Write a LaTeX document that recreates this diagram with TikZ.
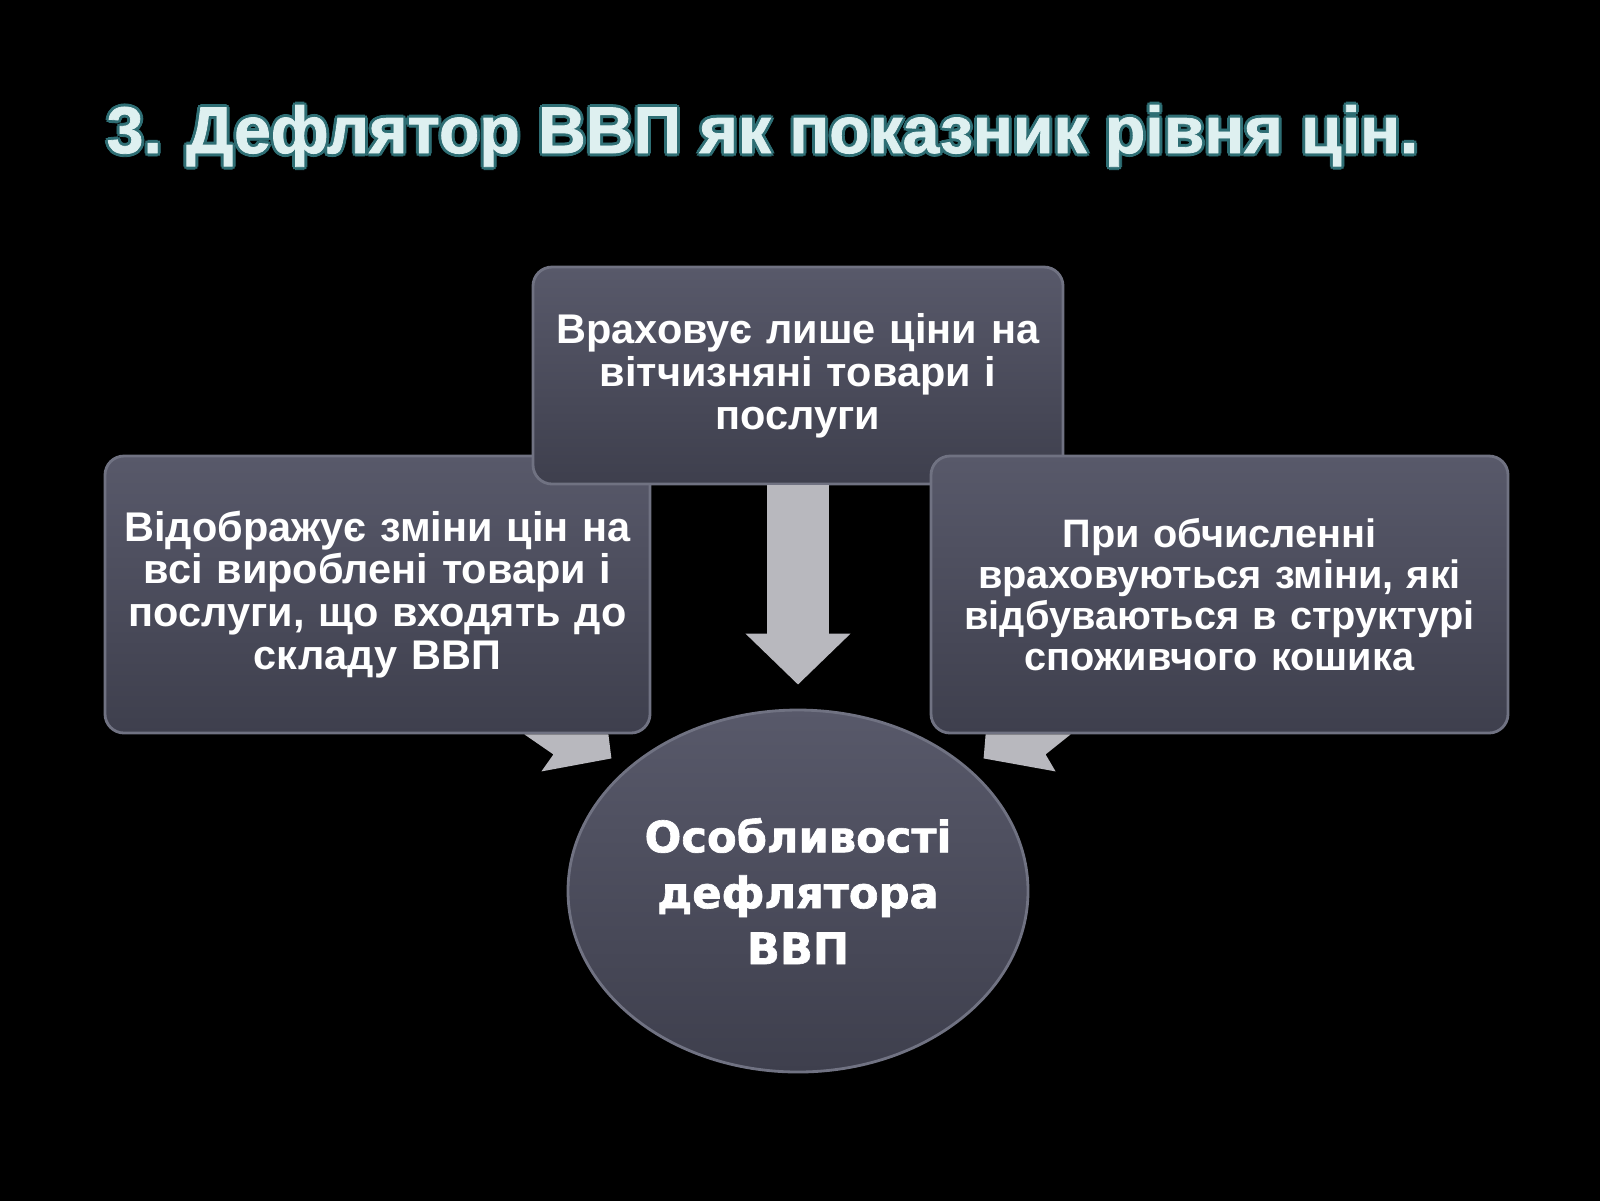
\documentclass[tikz,border=0pt]{standalone}
\usepackage{fontspec}
\setmainfont{Liberation Sans}
\newfontfamily\titlefont{Liberation Sans}[BoldFeatures={FakeBold=1.2}]
\newfontfamily\ovalfont{DejaVu Sans}[BoldFeatures={FakeBold=1.5}]
\usetikzlibrary{arrows.meta,shapes.geometric}
\definecolor{boxtop}{RGB}{88,89,106}
\definecolor{boxbot}{RGB}{62,63,77}
\definecolor{boxedge}{RGB}{112,114,130}
\definecolor{arrowgray}{RGB}{184,184,190}
\definecolor{titlefill}{RGB}{222,240,240}
\definecolor{titleline}{RGB}{46,110,116}

\begin{document}
\begin{tikzpicture}[>={Triangle[width=10.2mm,length=5.1mm]},line cap=butt,
  card/.style={rectangle,rounded corners=1.9mm,top color=boxtop,bottom color=boxbot,draw=boxedge,line width=0.8pt,text=white,align=center,inner sep=0pt},
  titletext/.style={anchor=base west,inner sep=0pt,font=\titlefont\fontsize{18.8}{22}\selectfont\bfseries}]
\useasboundingbox (0,0) rectangle (16,-12);
\fill[black] (-0.2,0.2) rectangle (16.2,-12.2);
% title with outline
\foreach \dx/\dy [count=\i] in {0.03/0,-0.03/0,0/0.03,0/-0.03,0.021/0.021,-0.021/0.021,0.021/-0.021,-0.021/-0.021}
  \node[titletext,titleline] (title-\i) at (1.06+\dx,-1.53+\dy) {3. Дефлятор ВВП як показник рівня цін.};
\node[titletext,titlefill] (title) at (1.06,-1.53) {3. Дефлятор ВВП як показник рівня цін.};
% boxes
\node[card,minimum width=5.45cm,minimum height=2.77cm,text width=5.3cm,font=\fontsize{11.8}{12.2}\selectfont\bfseries] (lbox) at (3.775,-5.945) {Відображує зміни цін на\\ всі вироблені товари і\\ послуги, що входять до\\ складу ВВП};
\node[card,minimum width=5.30cm,minimum height=2.17cm,text width=5.1cm,font=\fontsize{11.8}{12.2}\selectfont\bfseries] (tbox) at (7.98,-3.755) {Враховує лише ціни на\\ вітчизняні товари і\\ послуги};
\node[card,minimum width=5.77cm,minimum height=2.77cm,text width=5.6cm,font=\fontsize{11.3}{11.7}\selectfont\bfseries] (rbox) at (12.195,-5.945) {При обчисленні\\ враховуються зміни, які\\ відбуваються в структурі\\ споживчого кошика};
\node[ellipse,top color=boxtop,bottom color=boxbot,draw=boxedge,line width=0.8pt,minimum width=4.6cm,minimum height=3.62cm,inner sep=0pt,text=white,align=center,font=\ovalfont\fontsize{12.3}{15.9}\selectfont\bfseries] (oval) at (7.98,-8.91) {Особливості\\ дефлятора\\ ВВП};
% arrows
\draw[->,arrowgray,line width=6.2mm,shorten >=2.4mm] (tbox.south) -- (oval.north);
\fill[arrowgray,shift={(lbox.south east)}] (-1.27,0) -- (-0.43,0) -- (-0.40,-0.24) -- (-1.10,-0.37) -- (-0.98,-0.20) -- cycle;
\fill[arrowgray,shift={(rbox.south west)}] (0.56,0) -- (1.41,0) -- (1.16,-0.20) -- (1.26,-0.37) -- (0.54,-0.24) -- cycle;
\end{tikzpicture}
\end{document}
